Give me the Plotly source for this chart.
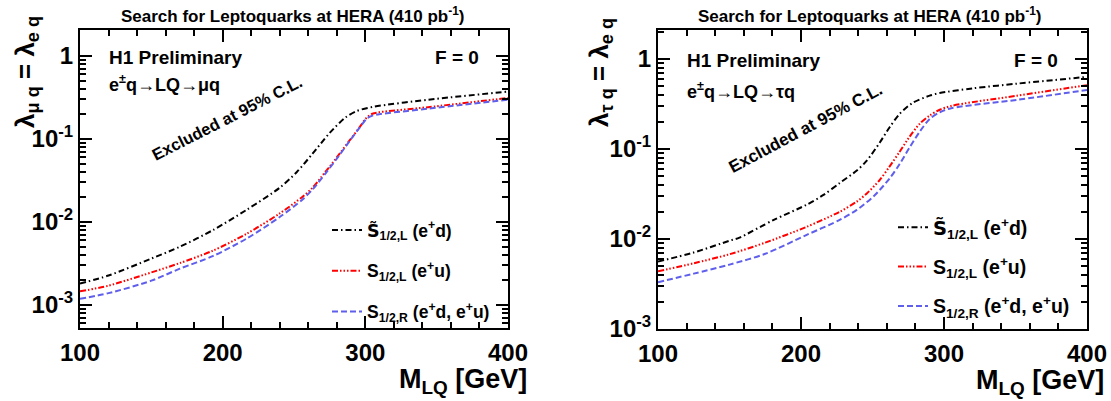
import plotly.graph_objects as go

W, H = 1111, 401

# ---------------- data ----------------
# left panel: e q -> LQ -> mu q
m_left_a = [100, 120, 150, 170, 193, 217, 240, 252, 263, 275, 286, 294, 306, 344, 400]
left_s12l_tilde = [1.8e-3, 2.25e-3, 3.6e-3, 5.0e-3, 7.9e-3, 0.014, 0.0257, 0.0398, 0.066, 0.1175, 0.18, 0.216, 0.243, 0.295, 0.37]

m_left_b = [100, 120, 150, 170, 193, 217, 240, 256, 263, 272, 282, 289, 296, 301, 305, 310, 344, 400]
left_s12l = [1.45e-3, 1.7e-3, 2.45e-3, 3.18e-3, 4.47e-3, 7.2e-3, 0.0126, 0.020, 0.0257, 0.0398, 0.066, 0.0955, 0.138, 0.18, 0.20, 0.209, 0.24, 0.31]
left_s12r = [1.18e-3, 1.38e-3, 1.95e-3, 2.72e-3, 3.85e-3, 6.3e-3, 0.0114, 0.0186, 0.0245, 0.038, 0.064, 0.094, 0.136, 0.175, 0.19, 0.198, 0.23, 0.295]

# right panel: e q -> LQ -> tau q
m_right_a = [100, 125, 150, 157, 181, 204, 216, 227, 239, 246, 255, 262, 269, 278, 290, 297, 320, 351, 400]
right_s12l_tilde = [5.6e-3, 7.08e-3, 9.55e-3, 0.01035, 0.0163, 0.024, 0.031, 0.0417, 0.0575, 0.074, 0.117, 0.174, 0.245, 0.324, 0.39, 0.417, 0.47, 0.53, 0.63]

m_right_b = [100, 125, 150, 175, 204, 227, 239, 246, 255, 262, 269, 276, 283, 290, 297, 305, 351, 400]
right_s12l = [4.37e-3, 5.37e-3, 6.76e-3, 9.1e-3, 0.01365, 0.020, 0.026, 0.032, 0.045, 0.064, 0.093, 0.137, 0.19, 0.235, 0.272, 0.30, 0.39, 0.51]

m_right_c = [100, 125, 150, 175, 204, 227, 239, 251, 262, 269, 276, 283, 290, 297, 305, 351, 400]
right_s12r = [3.31e-3, 4.12e-3, 5.19e-3, 6.84e-3, 0.0111, 0.01625, 0.021, 0.030, 0.047, 0.068, 0.104, 0.155, 0.215, 0.255, 0.283, 0.35, 0.45]

names = ["<span style=\"font-family:DejaVu Sans\">S\u0303</span><sub>1/2,L</sub> (e<sup>+</sup>d)",
         "S<sub>1/2,L</sub> (e<sup>+</sup>u)",
         "S<sub>1/2,R</sub> (e<sup>+</sup>d, e<sup>+</sup>u)"]
y_tick_vals = [1e-3, 1e-2, 1e-1, 1]
y_tick_text = ["10<sup>-3</sup>", "10<sup>-2</sup>", "10<sup>-1</sup>", "1"]
title_text = "Search for Leptoquarks at HERA (410 pb<sup>-1</sup>)"

# ---------------- styling ----------------
FONT = "Liberation Sans, Arial, sans-serif"
styles = [
    dict(color="black", width=2, dash="6px,3px,1.5px,3px"),
    dict(color="#ff0000", width=2, dash="6px,2px,1.5px,2px,1.5px,2px,1.5px,2px"),
    dict(color="#5f5fec", width=2, dash="6px,3px"),
]

def px_x(p):
    return p / W

def px_y(p):
    return 1 - p / H

fig = go.Figure()

left_sets = [(m_left_a, left_s12l_tilde), (m_left_b, left_s12l), (m_left_b, left_s12r)]
right_sets = [(m_right_a, right_s12l_tilde), (m_right_b, right_s12l), (m_right_c, right_s12r)]

for i, (xs, ys) in enumerate(left_sets):
    fig.add_trace(go.Scatter(x=xs, y=ys, mode="lines", name=names[i],
                             line=dict(**styles[i], shape="spline", smoothing=0.8),
                             xaxis="x", yaxis="y", legend="legend", legendgroup=f"l{i}"))
for i, (xs, ys) in enumerate(right_sets):
    fig.add_trace(go.Scatter(x=xs, y=ys, mode="lines", name=names[i],
                             line=dict(**styles[i], shape="spline", smoothing=0.8),
                             xaxis="x2", yaxis="y2", legend="legend2", legendgroup=f"r{i}"))

minor_y = [k * 10.0 ** e for e in range(-4, 1) for k in range(2, 10)]

def xaxis_common(dom, anchor):
    return dict(domain=dom, anchor=anchor, range=[100, 400], dtick=100, tick0=100,
                ticks="inside", ticklen=12, tickwidth=1.5, tickcolor="black",
                showline=True, linewidth=2, linecolor="black", mirror="allticks",
                showgrid=False, zeroline=False, automargin=False, ticklabelstandoff=2,
                minor=dict(dtick=20, tick0=100, ticks="inside", ticklen=6, tickwidth=1.5,
                           tickcolor="black", showgrid=False),
                tickfont=dict(family=FONT, size=24, color="black", weight="bold"))

def yaxis_common(dom, anchor, rng):
    return dict(domain=dom, anchor=anchor, type="log", range=rng,
                tickmode="array", tickvals=y_tick_vals, ticktext=y_tick_text,
                ticks="inside", ticklen=12, tickwidth=1.5, tickcolor="black",
                showline=True, linewidth=2, linecolor="black", mirror="allticks",
                showgrid=False, zeroline=False, automargin=False, ticklabelstandoff=0,
                minor=dict(tickmode="array", tickvals=minor_y, ticks="inside", ticklen=6,
                           tickwidth=1.5, tickcolor="black", showgrid=False),
                tickfont=dict(family=FONT, size=24, color="black", weight="bold"))

fig.update_layout(
    width=W, height=H, margin=dict(l=0, r=0, t=0, b=0),
    paper_bgcolor="white", plot_bgcolor="white", showlegend=True,
    font=dict(family=FONT, color="black"),
    xaxis=xaxis_common([px_x(80), px_x(508)], "y"),
    yaxis=yaxis_common([px_y(328), px_y(30)], "x", [-3.28, 0.31]),
    xaxis2=xaxis_common([px_x(658), px_x(1087)], "y2"),
    yaxis2=yaxis_common([px_y(329), px_y(30)], "x2", [-3.0, 0.32]),
    legend=dict(x=px_x(327), y=px_y(212), xanchor="left", yanchor="top", bgcolor="rgba(0,0,0,0)",
                font=dict(family=FONT, size=17.5, color="black", weight="bold"),
                tracegroupgap=15, itemwidth=30),
    legend2=dict(x=px_x(893), y=px_y(208), xanchor="left", yanchor="top", bgcolor="rgba(0,0,0,0)",
                 font=dict(family=FONT, size=19.5, color="black", weight="bold"),
                 tracegroupgap=11, itemwidth=30),
)

def ann(text, x, y, size, xanchor="center", yanchor="middle", angle=0):
    fig.add_annotation(text=text, x=px_x(x), y=px_y(y), xref="paper", yref="paper",
                       xanchor=xanchor, yanchor=yanchor, textangle=angle, showarrow=False,
                       borderpad=0,
                       font=dict(family=FONT, size=size, color="black", weight="bold"))

# titles
ann(title_text, 292, 15, 17)
ann(title_text, 869, 15, 17)
# y axis titles
ann("λ<sub>μ q</sub> = λ<sub>e q</sub>", 26, 72, 26, angle=-90)
ann("λ<sub>τ q</sub> = λ<sub>e q</sub>", 600, 73, 26, angle=-90)
# x axis titles
ann("M<sub>LQ</sub> [GeV]", 528, 381, 27, xanchor="right")
ann("M<sub>LQ</sub> [GeV]", 1105, 382, 27, xanchor="right")
# inner labels
ann("H1 Preliminary", 108, 57, 19, xanchor="left")
ann("H1 Preliminary", 686, 60, 19, xanchor="left")
ann("e<sup>±</sup>q→LQ→μq", 108, 83, 18, xanchor="left")
ann("e<sup>±</sup>q→LQ→τq", 686, 90, 18, xanchor="left")
ann("F = 0", 480, 57, 19, xanchor="right")
ann("F = 0", 1059, 60, 19, xanchor="right")
ann("Excluded at 95% C.L.", 227, 118, 16.5, angle=-27)
ann("Excluded at 95% C.L.", 805, 128, 17, angle=-28)

fig.write_html("out.html")
